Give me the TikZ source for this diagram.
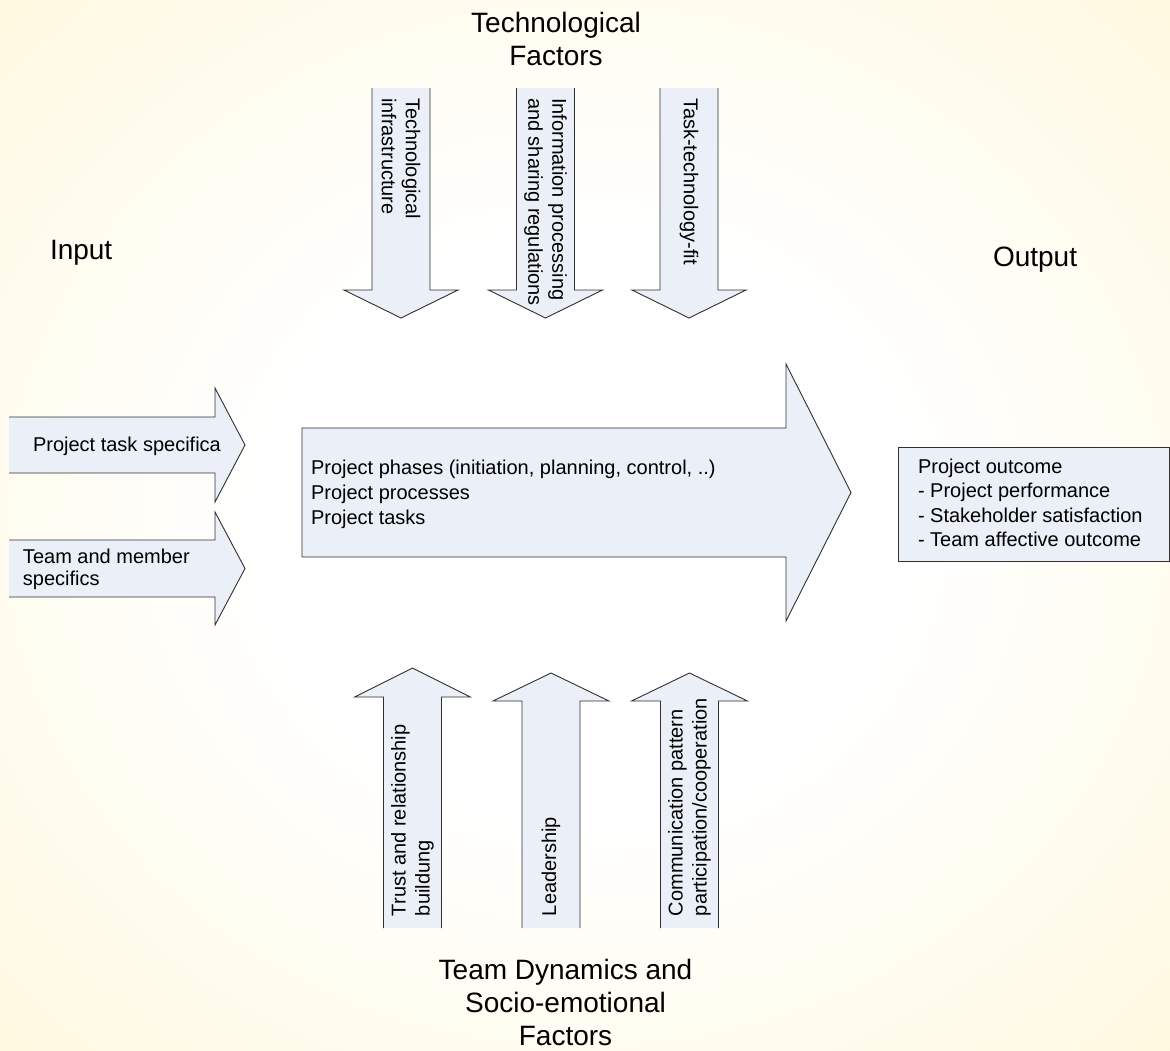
\documentclass[tikz,border=0pt]{standalone}
\usepackage{fontspec}
\setmainfont{Liberation Sans}
\definecolor{blockfill}{HTML}{EAEFF8}
\definecolor{blockedge}{HTML}{303030}
\definecolor{paper}{HTML}{FFF4CC}
\pgfdeclareradialshading{paperglow}{\pgfpoint{0bp}{0bp}}{%
  color(0bp)=(white); color(14bp)=(white); color(50bp)=(paper)}
\begin{document}
\begin{tikzpicture}[x=1pt,y=-1pt,
  blockline/.style={draw=blockedge,line width=0.9pt,line join=miter},
  label/.style={inner sep=0pt,outer sep=0pt,align=left,
    font=\fontsize{20}{24}\selectfont},
  heading/.style={inner sep=0pt,outer sep=0pt,align=center,
    font=\fontsize{28}{33}\selectfont},
]
\useasboundingbox (0,0) rectangle (1170,1050);
% soft paper background
\shade[shading=paperglow] (0,0) rectangle (1170,1050);

% ---------- headings ----------
\node[heading,anchor=north] (techhead) at (556,12.6) {Technological\\Factors};
\node[heading,anchor=base west] (inputhead) at (50,259) {Input};
\node[heading,anchor=base west] (outputhead) at (993,266) {Output};
\node[heading,anchor=north] (teamhead) at (565.5,959.6)
  {Team Dynamics and\\Socio-emotional\\Factors};

% ---------- input arrows (open tail on the left) ----------
\fill[blockfill] (9,417) -- (215,417) -- (215,388) -- (245,445) -- (215,502)
  -- (215,473) -- (9,473) -- cycle;
\draw[blockline] (9,417) -- (215,417) -- (215,388) -- (245,445) -- (215,502)
  -- (215,473) -- (9,473);
\node[label,anchor=base west] (taskin) at (33,451) {Project task specifica};

\fill[blockfill] (9,540) -- (215,540) -- (215,512) -- (245,568.5) -- (215,625)
  -- (215,597) -- (9,597) -- cycle;
\draw[blockline] (9,540) -- (215,540) -- (215,512) -- (245,568.5) -- (215,625)
  -- (215,597) -- (9,597);
\node[label,anchor=north west,font=\fontsize{20}{22.5}\selectfont] (teamin)
  at (23,548.6) {Team and member\\specifics};

% ---------- central process arrow ----------
\draw[blockline,fill=blockfill] (302,428) -- (786,428) -- (786,364)
  -- (851,492.5) -- (786,621) -- (786,557) -- (302,557) -- cycle;
\node[label,anchor=north west,font=\fontsize{20}{25}\selectfont] (process)
  at (311,459.5)
  {Project phases (initiation, planning, control, ..)\\Project processes\\Project tasks};

% ---------- output box ----------
\draw[blockline,fill=blockfill] (898,447) rectangle (1169.5,561);
\node[label,anchor=north west,font=\fontsize{20}{24.6}\selectfont] (outcome)
  at (918,458.6)
  {Project outcome\\- Project performance\\- Stakeholder satisfaction\\- Team affective outcome};

% ---------- technological factors (downward arrows, open top) ----------
\foreach \cx/\nm/\txt in {401/infra/{Technological\\infrastructure},
    545.5/sharing/{Information processing\\and sharing regulations},
    689/fit/{Task-technology-fit}} {
  \fill[blockfill] (\cx-29,88) -- (\cx+29,88) -- (\cx+29,290) -- (\cx+57,290)
    -- (\cx,318) -- (\cx-57,290) -- (\cx-29,290) -- cycle;
  \draw[blockline] (\cx-29,88) -- (\cx-29,290) -- (\cx-57,290) -- (\cx,318)
    -- (\cx+57,290) -- (\cx+29,290) -- (\cx+29,88);
  \node[label,rotate=-90,anchor=west] (\nm) at (\cx,98) {\txt};
}

% ---------- team dynamics (upward arrows, open bottom) ----------
\foreach \cx/\top/\base/\nm/\txt in {412.5/668/697/trust/{Trust and relationship\\buildung},
    551/673/701/lead/{Leadership},
    689.5/673/701/comm/{Communication pattern\\participation/cooperation}} {
  \fill[blockfill] (\cx-29,928) -- (\cx+29,928) -- (\cx+29,\base) -- (\cx+58,\base)
    -- (\cx,\top) -- (\cx-58,\base) -- (\cx-29,\base) -- cycle;
  \draw[blockline] (\cx-29,928) -- (\cx-29,\base) -- (\cx-58,\base) -- (\cx,\top)
    -- (\cx+58,\base) -- (\cx+29,\base) -- (\cx+29,928);
  \node[label,rotate=90,anchor=west] (\nm) at (\cx,916) {\txt};
}
\end{tikzpicture}
\end{document}
